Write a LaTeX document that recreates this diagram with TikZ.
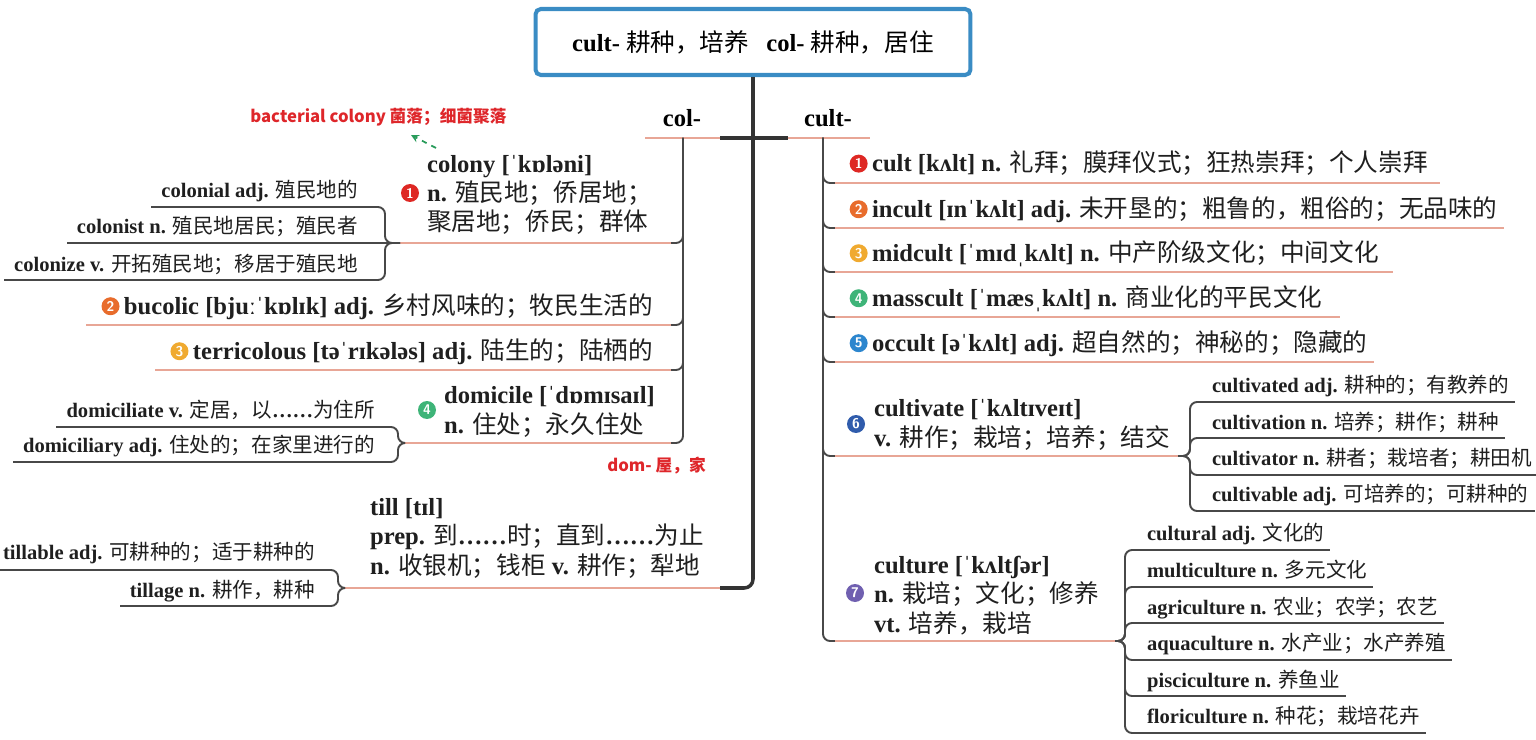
\documentclass[tikz,border=0pt]{standalone}
\usepackage{fontspec}
\setmainfont{Liberation Serif}
\newfontfamily\zhfont{Noto Sans CJK SC}
\newcommand{\zh}[1]{{\zhfont\mdseries #1}}
\usetikzlibrary{positioning,calc}
\definecolor{rootblue}{RGB}{58,140,196}
\definecolor{ulred}{RGB}{232,166,150}
\definecolor{lngray}{RGB}{72,72,72}
\definecolor{tagred}{RGB}{222,38,42}
\definecolor{arrgreen}{RGB}{40,155,90}
\definecolor{nA}{RGB}{222,40,36}
\definecolor{nB}{RGB}{232,108,44}
\definecolor{nC}{RGB}{240,170,48}
\definecolor{nD}{RGB}{62,180,120}
\definecolor{nE}{RGB}{44,134,206}
\definecolor{nF}{RGB}{48,92,172}
\definecolor{nG}{RGB}{112,96,176}
\tikzstyle{root}=[draw=rootblue, line width=2.3pt, rounded corners=3pt,
                  minimum width=8.7cm, minimum height=1.32cm,
                  font=\fontsize{14}{16}\selectfont\bfseries]
\tikzstyle{head}=[font=\fontsize{14}{16}\selectfont\bfseries, inner sep=0pt]
\tikzstyle{word}=[font=\fontsize{14}{16.7}\selectfont\bfseries, inner sep=1pt,
                  align=left, text=black!88]
\tikzstyle{kid}=[font=\fontsize{11.7}{14}\selectfont\bfseries, inner sep=1pt,
                  text=black!88]
\tikzstyle{num}=[shape=circle, inner sep=0pt, minimum size=0.36cm, text=white,
                  font=\sffamily\bfseries\fontsize{8}{8}\selectfont]
\tikzstyle{tag}=[font=\zhfont\bfseries\fontsize{9.5}{11}\selectfont,
                  text=tagred, inner sep=0pt]
\tikzstyle{uline}=[draw=ulred, line width=0.8pt]
\tikzstyle{kline}=[draw=lngray, line width=0.8pt]
\tikzstyle{conn}=[draw=lngray, line width=1.1pt, rounded corners=4pt]
\tikzstyle{trunk}=[draw=black!80, line width=2pt, rounded corners=5pt]
\begin{document}
\begin{tikzpicture}[x=0.02cm, y=-0.02cm, >=stealth]
\useasboundingbox (0,0) rectangle (1536,740);

% root and heads
\node[root] (root) at (753,42) {cult- \zh{耕种，培养}\hspace{0.7em}col- \zh{耕种，居住}};
\node[head] (col) at (682,118) {col-};
\node[head] (cult) at (828,118) {cult-};
\coordinate (colj) at (720,138);
\coordinate (cultj) at (788,138);
\coordinate (colv) at (683,138);
\coordinate (cultv) at (823,138);
\coordinate (tillj) at (720,588);
\draw[trunk] (root.south) |- (tillj);
\draw[trunk] (colj) -- (cultj);
\draw[uline] (colj) -- (645,138);
\draw[uline] (cultj) -- (870,138);

% col- side (multi-line nodes sit on their last line)
\node[word, anchor=base west] (colony) at (425,231)
  {colony [ˈkɒləni]\\n. \zh{殖民地；侨居地；}\\\zh{聚居地；侨民；群体}};
\node[num, fill=nA] (n1) at (410,193) {1};
\node[word, anchor=base east] (bucolic) at (655,314)
  {bucolic [bjuːˈkɒlɪk] adj. \zh{乡村风味的；牧民生活的}};
\node[num, fill=nB, left=0.04cm of bucolic] (n2) {2};
\node[word, anchor=base east] (terri) at (655,359)
  {terricolous [təˈrɪkələs] adj. \zh{陆生的；陆栖的}};
\node[num, fill=nC, left=0.04cm of terri] (n3) {3};
\node[word, anchor=base west] (domi) at (442,433)
  {domicile [ˈdɒmɪsaɪl]\\n. \zh{住处；永久住处}};
\node[num, fill=nD] (n4) at (427,410) {4};
\node[tag, anchor=west] (bact) at (250,117) {bacterial colony 菌落；细菌聚落};
\node[tag, anchor=west] (dom) at (607,466) {dom- 屋，家};
\coordinate (ga) at (436,148);
\coordinate (gb) at (411,135);
\draw[->, arrgreen, dashed, line width=1pt] (ga) -- (gb);

\coordinate (cu1) at (671,243);
\coordinate (cu2) at (671,325);
\coordinate (cu3) at (671,370);
\coordinate (cu4) at (671,443);
\coordinate (cyj) at (400,243);
\coordinate (dmj) at (405,443);
\draw[conn] (colv) |- (cu1);
\draw[conn] (colv) |- (cu2);
\draw[conn] (colv) |- (cu3);
\draw[conn] (colv) |- (cu4);
\draw[uline] (cu1) -- (cyj);
\draw[uline] (cu2) -- ($(n2.west |- cu2)+(-15,0)$);
\draw[uline] (cu3) -- ($(n3.west |- cu3)+(-15,0)$);
\draw[uline] (cu4) -- (dmj);

% colony kids
\node[kid, anchor=base east] (cy1) at (360,197) {colonial adj. \zh{殖民地的}};
\node[kid, anchor=base east] (cy2) at (360,234) {colonist n. \zh{殖民地居民；殖民者}};
\node[kid, anchor=base east] (cy3) at (360,271) {colonize v. \zh{开拓殖民地；移居于殖民地}};
\coordinate (ck1) at (377,207);
\coordinate (ck2) at (377,243);
\coordinate (ck3) at (377,280);
\draw[conn] (cyj) -- ++(-15,0) |- (ck1);
\draw[conn] (cyj) -- (ck2);
\draw[conn] (cyj) -- ++(-15,0) |- (ck3);
\draw[kline] (ck1) -- ($(cy1.west |- ck1)+(-8,0)$);
\draw[kline] (ck2) -- ($(cy2.west |- ck2)+(-8,0)$);
\draw[kline] (ck3) -- ($(cy3.west |- ck3)+(-8,0)$);

% domicile kids
\node[kid, anchor=base east] (dm1) at (377,417) {domiciliate v. \zh{定居，以}……\zh{为住所}};
\node[kid, anchor=base east] (dm2) at (377,452) {domiciliary adj. \zh{住处的；在家里进行的}};
\coordinate (dk1) at (390,427);
\coordinate (dk2) at (390,462);
\draw[conn] (dmj) -- ++(-7,0) |- (dk1);
\draw[conn] (dmj) -- ++(-7,0) |- (dk2);
\draw[kline] (dk1) -- ($(dm1.west |- dk1)+(-8,0)$);
\draw[kline] (dk2) -- ($(dm2.west |- dk2)+(-8,0)$);

% till
\node[word, anchor=base west] (till) at (368,574)
  {till [tɪl]\\prep. \zh{到}……\zh{时；直到}……\zh{为止}\\n. \zh{收银机；钱柜} v. \zh{耕作；犁地}};
\coordinate (tlj) at (345,588);
\draw[uline] (tillj) -- (tlj);
\node[kid, anchor=base east] (tl1) at (317,559) {tillable adj. \zh{可耕种的；适于耕种的}};
\node[kid, anchor=base east] (tl2) at (317,597) {tillage n. \zh{耕作，耕种}};
\coordinate (tk1) at (330,570);
\coordinate (tk2) at (330,606);
\draw[conn] (tlj) -- ++(-7,0) |- (tk1);
\draw[conn] (tlj) -- ++(-7,0) |- (tk2);
\draw[kline] (tk1) -- ($(tl1.west |- tk1)+(-8,0)$);
\draw[kline] (tk2) -- ($(tl2.west |- tk2)+(-8,0)$);

% cult- side
\node[word, anchor=base west] (ct1) at (870,172) {cult [kʌlt] n. \zh{礼拜；膜拜仪式；狂热崇拜；个人崇拜}};
\node[num, fill=nA, left=0.04cm of ct1] (m1) {1};
\node[word, anchor=base west] (ct2) at (870,217) {incult [ɪnˈkʌlt] adj. \zh{未开垦的；粗鲁的，粗俗的；无品味的}};
\node[num, fill=nB, left=0.04cm of ct2] (m2) {2};
\node[word, anchor=base west] (ct3) at (870,261) {midcult [ˈmɪdˌkʌlt] n. \zh{中产阶级文化；中间文化}};
\node[num, fill=nC, left=0.04cm of ct3] (m3) {3};
\node[word, anchor=base west] (ct4) at (870,306) {masscult [ˈmæsˌkʌlt] n. \zh{商业化的平民文化}};
\node[num, fill=nD, left=0.04cm of ct4] (m4) {4};
\node[word, anchor=base west] (ct5) at (870,351) {occult [əˈkʌlt] adj. \zh{超自然的；神秘的；隐藏的}};
\node[num, fill=nE, left=0.04cm of ct5] (m5) {5};
\node[word, anchor=base west] (ct6) at (872,446)
  {cultivate [ˈkʌltɪveɪt]\\v. \zh{耕作；栽培；培养；结交}};
\node[num, fill=nF] (m6) at (856,424) {6};
\node[word, anchor=base west] (ct7) at (872,632)
  {culture [ˈkʌltʃər]\\n. \zh{栽培；文化；修养}\\vt. \zh{培养，栽培}};
\node[num, fill=nG] (m7) at (855,593) {7};

\coordinate (ru1) at (835,183);
\coordinate (ru2) at (835,228);
\coordinate (ru3) at (835,272);
\coordinate (ru4) at (835,317);
\coordinate (ru5) at (835,362);
\coordinate (ru6) at (835,456);
\coordinate (ru7) at (835,641);
\coordinate (cvj) at (1178,456);
\coordinate (cuj) at (1115,641);
\draw[conn] (cultv) |- (ru1);
\draw[conn] (cultv) |- (ru2);
\draw[conn] (cultv) |- (ru3);
\draw[conn] (cultv) |- (ru4);
\draw[conn] (cultv) |- (ru5);
\draw[conn] (cultv) |- (ru6);
\draw[conn] (cultv) |- (ru7);
\draw[uline] (ru1) -- ($(ct1.east |- ru1)+(10,0)$);
\draw[uline] (ru2) -- ($(ct2.east |- ru2)+(4,0)$);
\draw[uline] (ru3) -- ($(ct3.east |- ru3)+(12,0)$);
\draw[uline] (ru4) -- ($(ct4.east |- ru4)+(16,0)$);
\draw[uline] (ru5) -- ($(ct5.east |- ru5)+(4,0)$);
\draw[uline] (ru6) -- (cvj);
\draw[uline] (ru7) -- (cuj);

% cultivate kids
\node[kid, anchor=base west] (cv1) at (1210,392) {cultivated adj. \zh{耕种的；有教养的}};
\node[kid, anchor=base west] (cv2) at (1210,429) {cultivation n. \zh{培养；耕作；耕种}};
\node[kid, anchor=base west] (cv3) at (1210,465) {cultivator n. \zh{耕者；栽培者；耕田机}};
\node[kid, anchor=base west] (cv4) at (1210,501) {cultivable adj. \zh{可培养的；可耕种的}};
\coordinate (vk1) at (1200,402);
\coordinate (vk2) at (1200,438);
\coordinate (vk3) at (1200,475);
\coordinate (vk4) at (1200,511);
\draw[conn] (cvj) -- ++(12,0) |- (vk1);
\draw[conn] (cvj) -- ++(12,0) |- (vk2);
\draw[conn] (cvj) -- ++(12,0) |- (vk3);
\draw[conn] (cvj) -- ++(12,0) |- (vk4);
\draw[kline] (vk1) -- ($(cv1.east |- vk1)+(4,0)$);
\draw[kline] (vk2) -- ($(cv2.east |- vk2)+(4,0)$);
\draw[kline] (vk3) -- ($(cv3.east |- vk3)+(4,0)$);
\draw[kline] (vk4) -- ($(cv4.east |- vk4)+(4,0)$);

% culture kids
\node[kid, anchor=base west] (cu1k) at (1145,540) {cultural adj. \zh{文化的}};
\node[kid, anchor=base west] (cu2k) at (1145,577) {multiculture n. \zh{多元文化}};
\node[kid, anchor=base west] (cu3k) at (1145,614) {agriculture n. \zh{农业；农学；农艺}};
\node[kid, anchor=base west] (cu4k) at (1145,650) {aquaculture n. \zh{水产业；水产养殖}};
\node[kid, anchor=base west] (cu5k) at (1145,687) {pisciculture n. \zh{养鱼业}};
\node[kid, anchor=base west] (cu6k) at (1145,723) {floriculture n. \zh{种花；栽培花卉}};
\coordinate (uk1) at (1135,550);
\coordinate (uk2) at (1135,587);
\coordinate (uk3) at (1135,623);
\coordinate (uk4) at (1135,660);
\coordinate (uk5) at (1135,696);
\coordinate (uk6) at (1135,733);
\draw[conn] (cuj) -- ++(10,0) |- (uk1);
\draw[conn] (cuj) -- ++(10,0) |- (uk2);
\draw[conn] (cuj) -- ++(10,0) |- (uk3);
\draw[conn] (cuj) -- ++(10,0) |- (uk4);
\draw[conn] (cuj) -- ++(10,0) |- (uk5);
\draw[conn] (cuj) -- ++(10,0) |- (uk6);
\draw[kline] (uk1) -- ($(cu1k.east |- uk1)+(4,0)$);
\draw[kline] (uk2) -- ($(cu2k.east |- uk2)+(4,0)$);
\draw[kline] (uk3) -- ($(cu3k.east |- uk3)+(4,0)$);
\draw[kline] (uk4) -- ($(cu4k.east |- uk4)+(4,0)$);
\draw[kline] (uk5) -- ($(cu5k.east |- uk5)+(4,0)$);
\draw[kline] (uk6) -- ($(cu6k.east |- uk6)+(4,0)$);

\end{tikzpicture}
\end{document}
